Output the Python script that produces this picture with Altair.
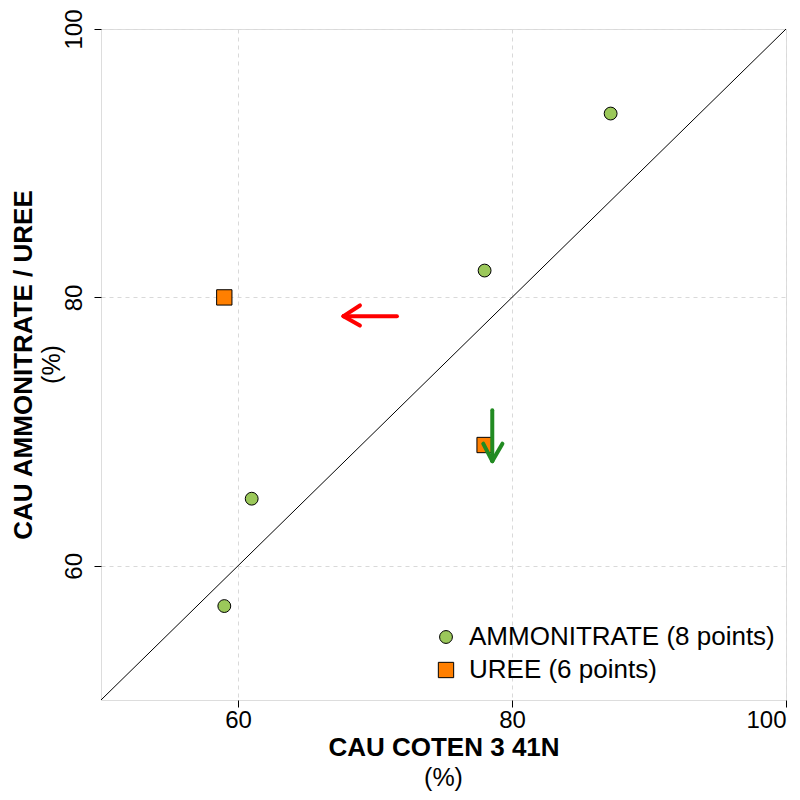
import altair as alt
import pandas as pd

# --- data ---
groups = ["AMMONITRATE (8 points)"] * 4 + ["UREE (6 points)"] * 2
x_vals = [87.2, 78.0, 61.0, 59.0, 59.0, 78.0]
y_vals = [93.7, 82.0, 65.0, 57.0, 80.0, 69.0]
legend_order = ["AMMONITRATE (8 points)", "UREE (6 points)"]
colors = ["#9BC85A", "#FF7F00"]
shapes = ["circle", "square"]
point_sizes = [165, 235]

diag_x = [50]
diag_y = [50]
diag_x2 = [100]
diag_y2 = [100]

# arrow segments (shaft + two head strokes), in data units
arrow_name = ["red", "red", "red", "green", "green", "green"]
arrow_x = [71.6, 67.7, 67.7, 78.56, 78.56, 78.56]
arrow_y = [78.6, 78.6, 78.6, 71.6, 67.8, 67.8]
arrow_x2 = [67.7, 68.9, 68.9, 78.56, 77.9, 79.3]
arrow_y2 = [78.6, 79.4, 77.9, 67.8, 69.1, 69.1]
arrow_colors = ["#FF0000", "#228B22"]

ticks = [60, 80, 100]
x_title = "CAU COTEN 3 41N"
y_title = "CAU AMMONITRATE / UREE"
unit = "(%)"

FONT = "Liberation Sans"
W, H = 685, 671

pts = pd.DataFrame({"x": x_vals, "y": y_vals, "g": groups})
diag = pd.DataFrame({"x": diag_x, "y": diag_y, "x2": diag_x2, "y2": diag_y2})
arr = pd.DataFrame({"x": arrow_x, "y": arrow_y, "x2": arrow_x2, "y2": arrow_y2, "a": arrow_name})

xs = alt.Scale(domain=[50, 100], nice=False, zero=False)
ys = alt.Scale(domain=[50, 100], nice=False, zero=False)

x_axis = alt.Axis(values=ticks, title=x_title, grid=True, gridDash=[4, 4], gridColor="#d9d9d9",
                  domain=False, tickColor="black", tickSize=7, labelFontSize=24, labelFont=FONT,
                  labelColor="black", labelPadding=1, titleFont=FONT, titleFontSize=26,
                  titleFontWeight="bold", titleColor="black", titlePadding=2)
y_axis = alt.Axis(values=ticks, title=y_title, grid=True, gridDash=[4, 4], gridColor="#d9d9d9",
                  domain=False, tickColor="black", tickSize=7, labelFontSize=24, labelFont=FONT,
                  labelColor="black", labelPadding=8, labelAngle=270, labelAlign="center",
                  labelBaseline="bottom", titleFont=FONT, titleFontSize=26,
                  titleFontWeight="bold", titleColor="black", titlePadding=26)

diag_layer = alt.Chart(diag).mark_rule(color="black", strokeWidth=1).encode(
    x=alt.X("x:Q", scale=xs, axis=x_axis), y=alt.Y("y:Q", scale=ys, axis=y_axis),
    x2="x2:Q", y2="y2:Q")

points = alt.Chart(pts).mark_point(filled=True, stroke="black", strokeWidth=1, opacity=1).encode(
    x=alt.X("x:Q", scale=xs),
    y=alt.Y("y:Q", scale=ys),
    fill=alt.Fill("g:N", scale=alt.Scale(domain=legend_order, range=colors),
                  legend=alt.Legend(title=None, orient="none", legendX=332, legendY=595,
                                    labelFont=FONT, labelFontSize=26, labelColor="black",
                                    labelLimit=0, symbolStrokeColor="black", symbolStrokeWidth=1,
                                    symbolSize=170, rowPadding=7, labelOffset=10, padding=0)),
    shape=alt.Shape("g:N", scale=alt.Scale(domain=legend_order, range=shapes)),
    size=alt.Size("g:N", scale=alt.Scale(domain=legend_order, range=point_sizes)),
)

arrows = alt.Chart(arr).mark_rule(strokeWidth=4, strokeCap="round").encode(
    x=alt.X("x:Q", scale=xs), y=alt.Y("y:Q", scale=ys), x2="x2:Q", y2="y2:Q",
    color=alt.Color("a:N", scale=alt.Scale(domain=["red", "green"], range=arrow_colors), legend=None))

unit_x = alt.Chart(pd.DataFrame({"t": [unit]})).mark_text(
    font=FONT, fontSize=25, color="black", align="center", baseline="middle").encode(
    text="t:N", x=alt.value(W / 2), y=alt.value(749))
unit_y = alt.Chart(pd.DataFrame({"t": [unit]})).mark_text(
    font=FONT, fontSize=25, color="black", align="center", baseline="middle", angle=270).encode(
    text="t:N", x=alt.value(-49), y=alt.value(H / 2))

chart = alt.layer(diag_layer, points, arrows, unit_x, unit_y).properties(
    width=W, height=H,
    autosize=alt.AutoSizeParams(type="none"),
    padding={"left": 93, "top": 21, "right": 6, "bottom": 92},
).configure_view(stroke="black", strokeWidth=1).configure(background="white")

chart.save("out.html", embed_options={"renderer": "svg", "actions": False})
